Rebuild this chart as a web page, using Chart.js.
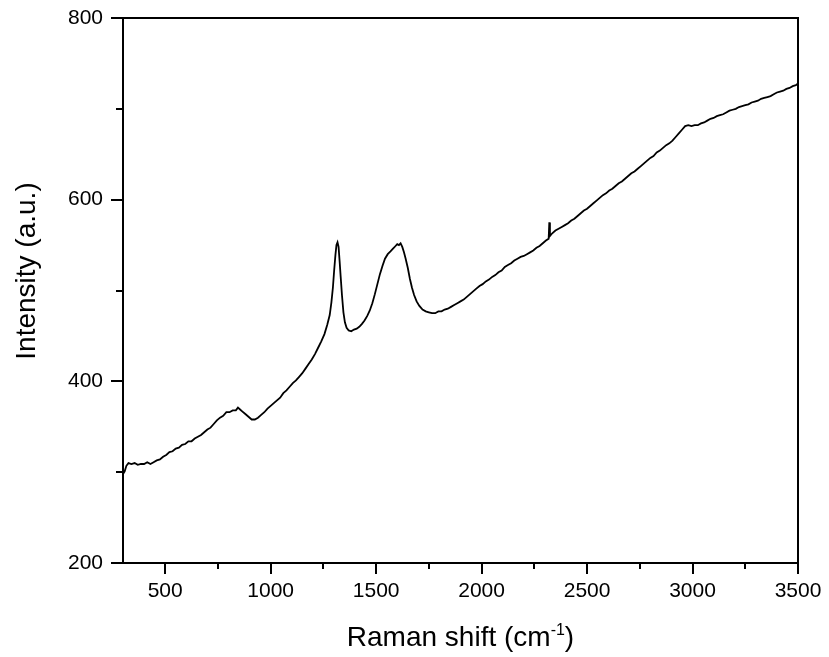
<!DOCTYPE html>
<html>
<head>
<meta charset="utf-8">
<script src="https://cdn.jsdelivr.net/npm/chart.js@4/dist/chart.umd.min.js"></script>
<style>
  html, body { margin: 0; padding: 0; background: #fff; }
  canvas { display: block; }
</style>
</head>
<body>
<canvas id="raman" width="829" height="657"></canvas>
<script>
// Raman spectrum: shift (cm^-1) and measured intensity (a.u.)
const ramanShift = [
  300, 308, 316, 326, 340, 355, 370, 385, 400, 415, 430, 445, 460, 475, 490,
  505, 520, 535, 550, 565, 580, 595, 610, 625, 640, 655, 670, 685, 700, 715,
  730, 745, 760, 775, 790, 805, 820, 835, 845, 855, 865, 880, 895, 910, 925,
  940, 955, 970, 985, 1000, 1015, 1030, 1045, 1060, 1075, 1090, 1105, 1120, 1135, 1150,
  1165, 1180, 1195, 1210, 1225, 1240, 1255, 1268, 1280, 1288, 1295, 1301, 1307, 1312, 1317,
  1322, 1327, 1332, 1338, 1345, 1352, 1360, 1370, 1382, 1395, 1408, 1420, 1432, 1445, 1458,
  1470, 1482, 1494, 1506, 1518, 1530, 1542, 1555, 1568, 1580, 1592, 1600, 1608, 1616, 1624,
  1632, 1640, 1650, 1660, 1670, 1680, 1692, 1705, 1720, 1735, 1750, 1765, 1780, 1795, 1810,
  1825, 1840, 1855, 1870, 1885, 1900, 1915, 1930, 1945, 1960, 1975, 1990, 2005, 2020, 2035,
  2050, 2065, 2080, 2095, 2110, 2125, 2140, 2155, 2170, 2185, 2200, 2215, 2230, 2245, 2260,
  2275, 2290, 2305, 2318, 2321, 2324, 2335, 2350, 2365, 2380, 2395, 2410, 2425, 2440, 2455,
  2470, 2485, 2500, 2515, 2530, 2545, 2560, 2575, 2590, 2605, 2620, 2635, 2650, 2665, 2680,
  2695, 2710, 2725, 2740, 2755, 2770, 2785, 2800, 2815, 2830, 2845, 2860, 2875, 2890, 2905,
  2920, 2935, 2950, 2965, 2980, 2995, 3010, 3025, 3040, 3055, 3070, 3085, 3100, 3115, 3130,
  3145, 3160, 3175, 3190, 3205, 3220, 3235, 3250, 3265, 3280, 3295, 3310, 3325, 3340, 3355,
  3370, 3385, 3400, 3415, 3430, 3445, 3460, 3475, 3490, 3500
];
const intensity = [
  298, 301, 307, 310, 309, 310, 308, 309, 309, 311, 309, 311, 313, 314, 317,
  319, 322, 323, 326, 327, 330, 331, 334, 334, 337, 339, 341, 344, 347, 349,
  353, 357, 360, 362, 366, 366, 368, 368, 371, 369, 367, 364, 361, 358, 358,
  360, 363, 366, 370, 373, 376, 379, 382, 387, 390, 394, 398, 401, 405, 409,
  414, 419, 424, 430, 437, 444, 452, 462, 473, 487, 503, 522, 539, 550, 553,
  548, 532, 515, 495, 476, 465, 459, 456, 455, 457, 458, 460, 463, 467, 472,
  478, 486, 496, 507, 518, 527, 535, 540, 543, 546, 549, 551, 550, 552, 548,
  542, 535, 525, 513, 503, 495, 488, 483, 479, 477, 476, 475, 475, 477, 477,
  479, 480, 482, 484, 486, 488, 490, 493, 496, 499, 502, 505, 507, 510, 512,
  515, 517, 520, 522, 526, 528, 530, 533, 535, 537, 538, 540, 542, 544, 547,
  549, 552, 555, 557, 575, 560, 563, 566, 568, 570, 572, 574, 577, 579, 582,
  585, 588, 590, 593, 596, 599, 602, 605, 607, 610, 612, 615, 618, 620, 623,
  626, 629, 631, 634, 637, 640, 643, 646, 648, 652, 654, 657, 660, 662, 665,
  669, 673, 677, 681, 682, 681, 682, 682, 684, 685, 687, 689, 690, 692, 693,
  694, 696, 698, 699, 700, 702, 703, 704, 705, 707, 708, 709, 711, 712, 713,
  714, 716, 718, 719, 720, 722, 723, 725, 726, 728
];

// Axis ticks (major ones carry labels, minor ones are short marks)
const xMajorTicks = [500, 1000, 1500, 2000, 2500, 3000, 3500];
const xMinorTicks = [750, 1250, 1750, 2250, 2750, 3250];
const yMajorTicks = [200, 400, 600, 800];
const yMinorTicks = [300, 500, 700];

const xTitle = 'Raman shift (cm';
const xTitleSup = '-1';
const xTitleEnd = ')';
const yTitle = 'Intensity (a.u.)';

const FONT = '"Liberation Sans", Arial, Helvetica, sans-serif';

// Frame, outward tick marks and axis titles
const framePlugin = {
  id: 'frame',
  afterDraw(chart) {
    const { ctx, chartArea: a, scales: { x, y } } = chart;
    ctx.save();
    ctx.strokeStyle = '#000';
    ctx.lineWidth = 2;
    ctx.strokeRect(a.left, a.top, a.right - a.left, a.bottom - a.top);

    ctx.beginPath();
    xMajorTicks.forEach(v => { const px = Math.round(x.getPixelForValue(v)); ctx.moveTo(px, a.bottom); ctx.lineTo(px, a.bottom + 11); });
    xMinorTicks.forEach(v => { const px = Math.round(x.getPixelForValue(v)); ctx.moveTo(px, a.bottom); ctx.lineTo(px, a.bottom + 6); });
    yMajorTicks.forEach(v => { const py = Math.round(y.getPixelForValue(v)); ctx.moveTo(a.left, py); ctx.lineTo(a.left - 12, py); });
    yMinorTicks.forEach(v => { const py = Math.round(y.getPixelForValue(v)); ctx.moveTo(a.left, py); ctx.lineTo(a.left - 7, py); });
    ctx.stroke();

    // x axis title with superscript
    ctx.fillStyle = '#000';
    ctx.textBaseline = 'alphabetic';
    ctx.textAlign = 'left';
    const big = '28px ' + FONT, small = '16px ' + FONT;
    ctx.font = big;
    const w1 = ctx.measureText(xTitle).width;
    const w3 = ctx.measureText(xTitleEnd).width;
    ctx.font = small;
    const w2 = ctx.measureText(xTitleSup).width;
    const cx = (a.left + a.right) / 2;
    const sx = cx - (w1 + w2 + w3) / 2;
    const base = 646;
    ctx.font = big;
    ctx.fillText(xTitle, sx, base);
    ctx.font = small;
    ctx.fillText(xTitleSup, sx + w1, base - 11);
    ctx.font = big;
    ctx.fillText(xTitleEnd, sx + w1 + w2, base);

    // y axis title
    ctx.translate(35, 271);
    ctx.rotate(-Math.PI / 2);
    ctx.textAlign = 'center';
    ctx.font = big;
    ctx.fillText(yTitle, 0, 0);
    ctx.restore();
  }
};

new Chart(document.getElementById('raman'), {
  type: 'line',
  data: {
    datasets: [{
      data: ramanShift.map((s, i) => ({ x: s, y: intensity[i] })),
      borderColor: '#000',
      borderWidth: 1.8,
      pointRadius: 0,
      tension: 0,
      fill: false
    }]
  },
  options: {
    responsive: false,
    animation: false,
    events: [],
    layout: { padding: { top: 18, right: 31, left: 0, bottom: 0 } },
    plugins: { legend: { display: false }, tooltip: { enabled: false } },
    scales: {
      x: {
        type: 'linear',
        min: 300,
        max: 3500,
        afterBuildTicks: s => { s.ticks = xMajorTicks.map(v => ({ value: v })); },
        afterFit: s => { s.height = 94; s.paddingLeft = 0; s.paddingRight = 0; },
        grid: { display: false },
        border: { display: false },
        ticks: { color: '#000', font: { family: FONT, size: 21 }, padding: 8, maxRotation: 0, autoSkip: false, callback: v => String(v) }
      },
      y: {
        min: 200,
        max: 800,
        afterBuildTicks: s => { s.ticks = yMajorTicks.map(v => ({ value: v })); },
        afterFit: s => { s.width = 123; s.paddingTop = 0; s.paddingBottom = 0; },
        grid: { display: false },
        border: { display: false },
        ticks: { color: '#000', font: { family: FONT, size: 21 }, padding: 12, callback: v => String(v) }
      }
    }
  },
  plugins: [framePlugin]
});
</script>
</body>
</html>
